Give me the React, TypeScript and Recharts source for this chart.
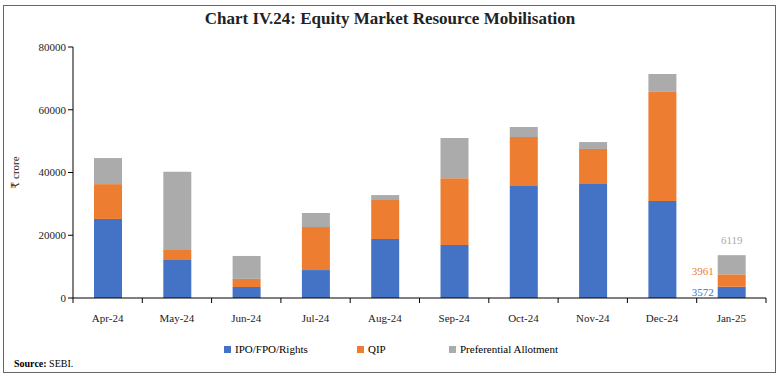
import React from 'react';
import { BarChart, Bar, XAxis, YAxis, LabelList } from 'recharts';

const months = ['Apr-24', 'May-24', 'Jun-24', 'Jul-24', 'Aug-24', 'Sep-24', 'Oct-24', 'Nov-24', 'Dec-24', 'Jan-25'];
const ipo = [25200, 12100, 3500, 8900, 18800, 16900, 35700, 36300, 30900, 3572];
const qip = [11100, 3200, 2600, 13700, 12400, 21300, 15600, 11200, 34800, 3961];
const pref = [8300, 24900, 7300, 4500, 1600, 12800, 3200, 2200, 5700, 6119];
const yTicks = [0, 20000, 40000, 60000, 80000];

const data = months.map((m, i) => ({ month: m, ipo: ipo[i], qip: qip[i], pref: pref[i] }));

const BLUE = '#4472C4';
const ORANGE = '#ED7D31';
const GREY = '#ABABAB';
const FONT = '"Liberation Serif", "DejaVu Serif", serif';

const PLOT_LEFT = 73;
const PLOT_RIGHT = 766;
const BAND = (PLOT_RIGHT - PLOT_LEFT) / months.length;

const XTick: React.FC<any> = ({ x, y, payload, index }) => (
    <g>
        <line x1={x - BAND / 2} x2={x - BAND / 2} y1={y - 8} y2={y - 3} stroke="#000" />
        {index === months.length - 1 && (
            <line x1={x + BAND / 2} x2={x + BAND / 2} y1={y - 8} y2={y - 3} stroke="#000" />
        )}
        <text x={x} y={y + 16} textAnchor="middle" fontSize={11} fontWeight="normal" fontFamily={FONT} fill="#222">
            {payload.value}
        </text>
    </g>
);

// value labels only shown on the last month
const lastLabel = (color: string, where: 'left' | 'top', dy: number) => (props: any) => {
    const { x, y, width, height, value, index } = props;
    if (index !== months.length - 1) return null;
    if (where === 'top') {
        return (
            <text x={x + width / 2} y={y - 11} textAnchor="middle" fontSize={11} fontFamily={FONT} fill={color}>
                {value}
            </text>
        );
    }
    return (
        <text x={x - 4} y={y + height / 2 + 4 + dy} textAnchor="end" fontSize={11} fontFamily={FONT} fill={color}>
            {value}
        </text>
    );
};

const legendItems = [
    { name: 'IPO/FPO/Rights', color: BLUE, x: 224 },
    { name: 'QIP', color: ORANGE, x: 357 },
    { name: 'Preferential Allotment', color: GREY, x: 449 },
];

export default function App() {
    return (
        <div style={{ position: 'absolute', left: 0, top: 0, width: 780, height: 383, background: '#fff', fontFamily: FONT }}>
            <div
                style={{
                    position: 'absolute',
                    left: 3,
                    top: 5,
                    width: 771,
                    height: 366,
                    border: '1px solid #666',
                }}
            />
            <div
                style={{
                    position: 'absolute',
                    left: 0,
                    top: 9,
                    width: 780,
                    textAlign: 'center',
                    fontSize: 17,
                    fontWeight: 'bold',
                    color: '#222',
                }}
            >
                Chart IV.24: Equity Market Resource Mobilisation
            </div>
            <div style={{ position: 'absolute', left: 0, top: 0 }}>
                <BarChart width={780} height={383} data={data} margin={{ top: 47, right: 14, bottom: 55, left: 0 }} barSize={28}>
                    <XAxis
                        dataKey="month"
                        tickLine={false}
                        axisLine={{ stroke: '#000' }}
                        height={30}
                        interval={0}
                        tick={<XTick />}
                    />
                    <YAxis
                        width={73}
                        domain={[0, 80000]}
                        ticks={yTicks}
                        tickLine={{ stroke: '#000' }}
                        tickSize={5}
                        axisLine={{ stroke: '#000' }}
                        tick={{ fontSize: 11, fontFamily: FONT, fill: '#222' }}
                        label={{
                            value: '₹ crore',
                            angle: -90,
                            position: 'insideLeft',
                            offset: 15,
                            style: { textAnchor: 'middle', fontSize: 11, fontFamily: FONT, fill: '#222' },
                        }}
                    />
                    <Bar dataKey="ipo" stackId="a" fill={BLUE} isAnimationActive={false}>
                        <LabelList dataKey="ipo" content={lastLabel(BLUE, 'left', 0)} />
                    </Bar>
                    <Bar dataKey="qip" stackId="a" fill={ORANGE} isAnimationActive={false}>
                        <LabelList dataKey="qip" content={lastLabel(ORANGE, 'left', -10)} />
                    </Bar>
                    <Bar dataKey="pref" stackId="a" fill={GREY} isAnimationActive={false}>
                        <LabelList dataKey="pref" content={lastLabel(GREY, 'top', 0)} />
                    </Bar>
                </BarChart>
            </div>
            {legendItems.map((l) => (
                <div key={l.name} style={{ position: 'absolute', left: l.x, top: 343, fontSize: 11, display: 'flex', alignItems: 'center' }}>
                    <span style={{ display: 'inline-block', width: 7, height: 7, background: l.color, marginRight: 4 }} />
                    {l.name}
                </div>
            ))}
            <div style={{ position: 'absolute', left: 14, top: 358, fontSize: 10 }}>
                <b>Source:</b> SEBI.
            </div>
        </div>
    );
}
